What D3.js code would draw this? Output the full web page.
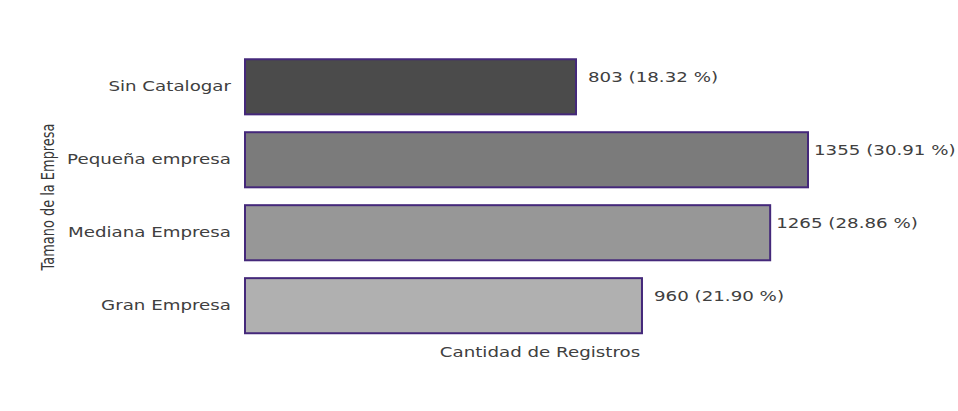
<!DOCTYPE html>
<html><head><meta charset="utf-8">
<script src="https://cdn.jsdelivr.net/npm/d3@7"></script>
<style>body{margin:0;background:#fff}</style>
</head><body>
<svg id="c" width="958" height="411"></svg>
<script>
const categories = ["Sin Catalogar","Pequeña empresa","Mediana Empresa","Gran Empresa"];
const values = [803,1355,1265,960];
const percents = ["18.32","30.91","28.86","21.90"];
const colors = ["#4b4b4b","#7b7b7b","#979797","#b0b0b0"];

const svg = d3.select("#c");
const plotLeft = 245;
const x = d3.scaleLinear().domain([0,1355]).range([238.5, 808]);
const y = d3.scaleBand().domain(categories).range([50.5, 342]).paddingInner(0.245).paddingOuter(0.12);
const stretch = 1.35;
function widen(sel){ sel.each(function(){ const L=this.getComputedTextLength(); this.setAttribute("textLength", L*stretch); this.setAttribute("lengthAdjust","spacingAndGlyphs"); }); }

svg.selectAll("rect.bar").data(categories).join("rect")
  .attr("x", plotLeft).attr("y", d=>y(d))
  .attr("width", (d,i)=>x(values[i])-plotLeft).attr("height", y.bandwidth())
  .attr("fill",(d,i)=>colors[i]).attr("stroke","#44287a").attr("stroke-width",2);

svg.selectAll("text.val").data(categories).join("text")
  .attr("x",(d,i)=>x(values[i]) + (values[i] > 1200 ? 6 : 12)).attr("y",d=>y(d)+23)
  .attr("font-family","DejaVu Sans").attr("font-size",13.5).attr("fill","#404040")
  .text((d,i)=>`${values[i]} (${percents[i]} %)`).call(widen);

const yAxis = d3.axisLeft(y).tickSize(0).tickPadding(14);
const ga = svg.append("g").attr("transform",`translate(${plotLeft},0)`).call(yAxis);
ga.select(".domain").remove();
ga.selectAll("text").attr("font-family","DejaVu Sans").attr("font-size",13.5).attr("fill","#404040").call(widen);

svg.append("text").attr("x",540).attr("y",357).attr("text-anchor","middle")
  .attr("font-family","DejaVu Sans").attr("font-size",13.5).attr("fill","#404040")
  .text("Cantidad de Registros").call(widen);

svg.append("text").attr("transform","translate(53.5,197) rotate(-90)").attr("text-anchor","middle")
  .attr("font-family","DejaVu Sans").attr("font-size",17).attr("fill","#383838")
  .attr("textLength",147).attr("lengthAdjust","spacingAndGlyphs")
  .text("Tamano de la Empresa");
</script>
</body></html>
